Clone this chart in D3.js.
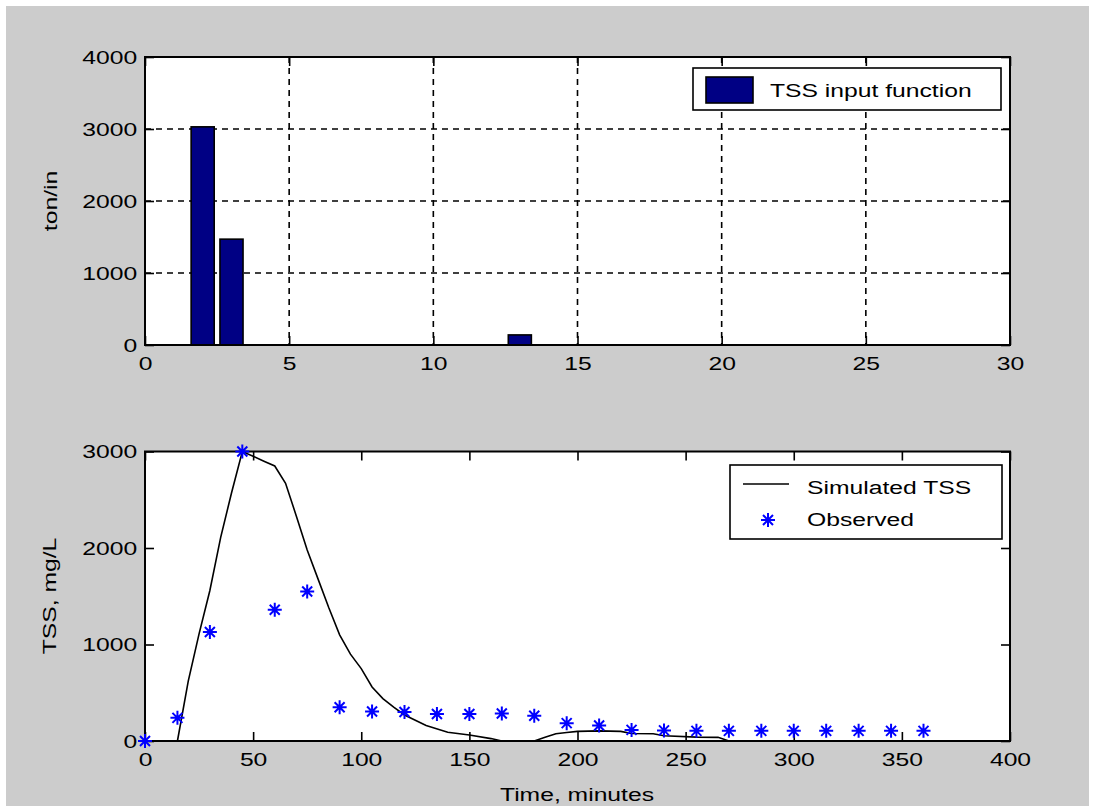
<!DOCTYPE html>
<html>
<head>
<meta charset="utf-8">
<script src="https://cdn.jsdelivr.net/npm/d3@7"></script>
<style>
body { margin: 0; background: #ffffff; }
text { font-family: "Liberation Sans", Arial, sans-serif; fill: #000; }
</style>
</head>
<body>
<script>
// top panel: TSS input function (bars)
var inputX = [2, 3, 13];
var inputVal = [3030, 1470, 140];
var topXTicks = [0, 5, 10, 15, 20, 25, 30];
var topYTicks = [0, 1000, 2000, 3000, 4000];

// bottom panel: simulated line + observed points
var simTime = [15, 20, 25, 30, 35, 40, 45, 50, 55, 60, 65, 70, 75, 80, 85, 90, 95, 100, 105, 110, 115, 120, 130, 140, 150, 160, 165, 180, 185, 190, 195, 200, 210, 220, 225, 235, 240, 255, 265, 270, 360];
var simTSS = [0, 620, 1110, 1560, 2110, 2570, 3000, 2950, 2900, 2850, 2670, 2330, 1980, 1680, 1380, 1100, 900, 750, 560, 440, 350, 270, 160, 90, 62, 25, 0, 0, 40, 75, 88, 100, 105, 100, 78, 75, 55, 40, 38, 0, 0];
var obsTime = [0, 15, 30, 45, 60, 75, 90, 105, 120, 135, 150, 165, 180, 195, 210, 225, 240, 255, 270, 285, 300, 315, 330, 345, 360];
var obsTSS = [0, 240, 1130, 3000, 1360, 1550, 350, 305, 300, 280, 280, 285, 262, 185, 160, 115, 110, 105, 105, 105, 105, 105, 105, 105, 105];
var botXTicks = [0, 50, 100, 150, 200, 250, 300, 350, 400];
var botYTicks = [0, 1000, 2000, 3000];

var width = 1095, height = 806;
var sx = 1.3; // MATLAB bitmap font is wide

var svg = d3.select("body").append("svg")
.attr("width", width)
.attr("height", height);

svg.append("rect")
.attr("x", 6).attr("y", 6)
.attr("width", width - 12).attr("height", height - 6)
.attr("fill", "#cccccc");

function stretch(sel) {
	sel.attr("transform", "scale(" + sx + ",1)");
}

function panel(box, xDom, yDom, xTicks, yTicks, grid) {
	var x = d3.scaleLinear().domain(xDom).range([box.l, box.r]);
	var y = d3.scaleLinear().domain(yDom).range([box.b, box.t]);
	var g = svg.append("g");

	g.append("rect")
	.attr("x", box.l).attr("y", box.t)
	.attr("width", box.r - box.l).attr("height", box.b - box.t)
	.attr("fill", "#ffffff");

	if (grid) {
		g.selectAll(".vg").data(xTicks.slice(1, -1)).enter().append("line")
		.attr("x1", function(d){ return x(d); }).attr("x2", function(d){ return x(d); })
		.attr("y1", box.t).attr("y2", box.b)
		.attr("stroke", "#000").attr("stroke-width", 1.6).attr("stroke-dasharray", "6,5");
		g.selectAll(".hg").data(yTicks.slice(1)).enter().append("line")
		.attr("x1", box.l).attr("x2", box.r)
		.attr("y1", function(d){ return y(d); }).attr("y2", function(d){ return y(d); })
		.attr("stroke", "#000").attr("stroke-width", 1.6).attr("stroke-dasharray", "6,5");
	}

	var fmt = d3.format("d");
	var gx = g.append("g").attr("transform", "translate(0," + box.b + ")")
	.call(d3.axisBottom(x).tickValues(xTicks).tickFormat(fmt).tickSizeInner(-9).tickSizeOuter(0).tickPadding(12));
	var gy = g.append("g").attr("transform", "translate(" + box.l + ",0)")
	.call(d3.axisLeft(y).tickValues(yTicks).tickFormat(fmt).tickSizeInner(-9).tickSizeOuter(0).tickPadding(6));
	var gt = g.append("g").attr("transform", "translate(0," + box.t + ")")
	.call(d3.axisTop(x).tickValues(xTicks).tickSizeInner(-9).tickSizeOuter(0).tickFormat(""));
	var gr = g.append("g").attr("transform", "translate(" + box.r + ",0)")
	.call(d3.axisRight(y).tickValues(yTicks).tickSizeInner(-9).tickSizeOuter(0).tickFormat(""));

	[gx, gy, gt, gr].forEach(function(a){
		a.select(".domain").remove();
		a.selectAll("line").attr("stroke", "#000").attr("stroke-width", 1.6);
		a.selectAll("text").attr("font-size", "19px").attr("font-family", "Liberation Sans, Arial, sans-serif").attr("fill", "#000").call(stretch);
	});

	return {x: x, y: y, g: g, box: box};
}

function frame(p) {
	p.g.append("rect")
	.attr("x", p.box.l).attr("y", p.box.t)
	.attr("width", p.box.r - p.box.l).attr("height", p.box.b - p.box.t)
	.attr("fill", "none").attr("stroke", "#000").attr("stroke-width", 2);
}

// ---- top panel
var topP = panel({l: 145, r: 1010, t: 57, b: 345}, [0, 30], [0, 4000], topXTicks, topYTicks, true);

topP.g.selectAll(".bar").data(inputVal).enter().append("rect")
.attr("x", function(d, i){ return topP.x(inputX[i] - 0.4); })
.attr("width", function(d, i){ return topP.x(inputX[i] + 0.4) - topP.x(inputX[i] - 0.4); })
.attr("y", function(d){ return topP.y(d); })
.attr("height", function(d){ return topP.y(0) - topP.y(d); })
.attr("fill", "#000084")
.attr("stroke", "#000")
.attr("stroke-width", 1.6);

frame(topP);

svg.append("text")
.attr("transform", "translate(57,201) rotate(-90) scale(" + sx + ",1)")
.attr("text-anchor", "middle")
.attr("font-size", "19px")
.text("ton/in");

var lg1 = svg.append("g");
lg1.append("rect").attr("x", 693).attr("y", 68).attr("width", 308).attr("height", 42)
.attr("fill", "#fff").attr("stroke", "#000").attr("stroke-width", 1.6);
lg1.append("rect").attr("x", 706).attr("y", 77).attr("width", 47).attr("height", 26)
.attr("fill", "#000084").attr("stroke", "#000").attr("stroke-width", 1.6);
lg1.append("g").attr("transform", "translate(770,97)")
.append("text").attr("font-size", "19px").call(stretch)
.text("TSS input function");

// ---- bottom panel
var bot = panel({l: 145, r: 1010, t: 451.5, b: 741}, [0, 400], [0, 3000], botXTicks, botYTicks, false);

var line = d3.line()
.x(function(d, i){ return bot.x(simTime[i]); })
.y(function(d){ return bot.y(d); });

bot.g.append("path")
.datum(simTSS)
.attr("d", line)
.attr("fill", "none")
.attr("stroke", "#000")
.attr("stroke-width", 1.6);

frame(bot);

function star(sel) {
	var a = 7, b = 5;
	sel.append("path")
	.attr("d", "M" + (-a) + ",0H" + a + "M0," + (-a) + "V" + a +
		"M" + (-b) + "," + (-b) + "L" + b + "," + b + "M" + (-b) + "," + b + "L" + b + "," + (-b))
	.attr("stroke", "#0000ff")
	.attr("stroke-width", 2)
	.attr("fill", "none");
}

bot.g.selectAll(".obs").data(obsTSS).enter().append("g")
.attr("transform", function(d, i){ return "translate(" + bot.x(obsTime[i]) + "," + bot.y(d) + ")"; })
.call(star);

svg.append("text")
.attr("transform", "translate(56,596) rotate(-90) scale(" + sx + ",1)")
.attr("text-anchor", "middle")
.attr("font-size", "19px")
.text("TSS, mg/L");

svg.append("text")
.attr("transform", "translate(577,801) scale(" + sx + ",1)")
.attr("text-anchor", "middle")
.attr("font-size", "19px")
.text("Time, minutes");

var lg2 = svg.append("g");
lg2.append("rect").attr("x", 730).attr("y", 465).attr("width", 272).attr("height", 74)
.attr("fill", "#fff").attr("stroke", "#000").attr("stroke-width", 1.6);
lg2.append("line").attr("x1", 743).attr("x2", 789).attr("y1", 484).attr("y2", 484)
.attr("stroke", "#000").attr("stroke-width", 1.6);
lg2.append("g").attr("transform", "translate(768,520)").call(star);
lg2.append("g").attr("transform", "translate(807,494)")
.append("text").attr("font-size", "19px").call(stretch)
.text("Simulated TSS");
lg2.append("g").attr("transform", "translate(807,526)")
.append("text").attr("font-size", "19px").call(stretch)
.text("Observed");
</script>
</body>
</html>
